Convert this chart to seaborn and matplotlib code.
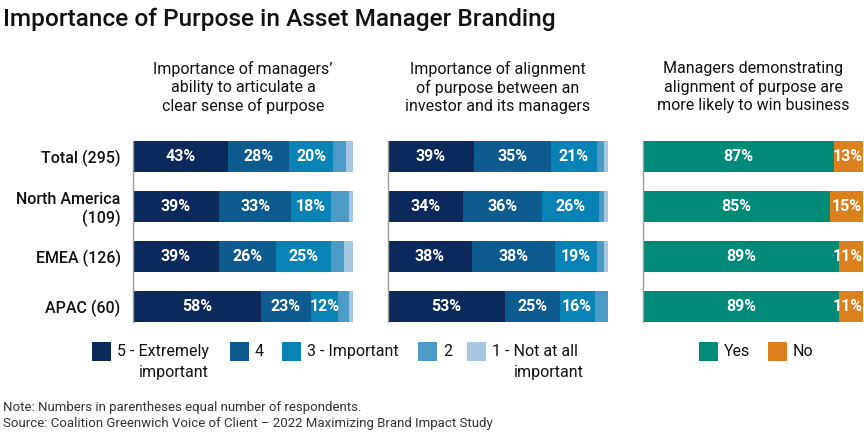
import numpy as np
import pandas as pd
import matplotlib
matplotlib.use("Agg")
import matplotlib.pyplot as plt
from matplotlib.patches import Rectangle
import seaborn as sns

# --- DATA ---
regions = ["Total (295)", "North America\n(109)", "EMEA (126)", "APAC (60)"]
scale_levels = ["5 - Extremely important", "4", "3 - Important", "2", "1 - Not at all important"]

# panel 1: ability to articulate a clear sense of purpose
articulate_5 = [43, 39, 39, 58]
articulate_4 = [28, 33, 26, 23]
articulate_3 = [20, 18, 25, 12]
articulate_2 = [6, 8, 6, 5]
articulate_1 = [3, 2, 4, 2]

# panel 2: alignment of purpose between investor and managers
alignment_5 = [39, 34, 38, 53]
alignment_4 = [35, 36, 38, 25]
alignment_3 = [21, 26, 19, 16]
alignment_2 = [3, 2, 3, 6]
alignment_1 = [2, 2, 2, 0]

# panel 3: more likely to win business
win_yes = [87, 85, 89, 89]
win_no = [13, 15, 11, 11]

panel_titles = [
    "Importance of managers\u2019\nability to articulate a\nclear sense of purpose",
    "Importance of alignment\nof purpose between an\ninvestor and its managers",
    "Managers demonstrating\nalignment of purpose are\nmore likely to win business",
]

# --- STYLE ---
BLUES = ["#0b2a5b", "#0e5b8f", "#0983b6", "#4c9ac6", "#a7c7e0"]
GREENS = ["#008a78", "#db801c"]
TXT = "#111111"
FONT = ["Roboto", "DejaVu Sans"]

sns.set_theme(style="white")
plt.rcParams["font.family"] = FONT

W, H = 864, 446
fig = plt.figure(figsize=(W / 100, H / 100), dpi=100)
renderer = fig.canvas.get_renderer()


def px_axes(x0, x1, y0, y1):
    return fig.add_axes([x0 / W, 1 - y1 / H, (x1 - x0) / W, (y1 - y0) / H])


def stacked(ax, series, colors):
    df = pd.DataFrame({"region": regions})
    n = len(series)
    # draw cumulative totals from the full bar down to the first segment
    for k in range(n, 0, -1):
        df["cum"] = np.sum(series[:k], axis=0)
        sns.barplot(data=df, x="cum", y="region", orient="h", color=colors[k - 1],
                    width=0.63, saturation=1, linewidth=0, ax=ax)
    left = np.zeros(len(regions))
    for vals in series:
        for i, v in enumerate(vals):
            if v >= 10:
                xc = min(left[i] + v / 2, 93.2)  # keep end labels inside the figure
                ax.text(xc, i, f"{v}%", ha="center", va="center",
                        color="white", fontsize=11.5, fontweight="bold")
        left += np.array(vals)
    ax.set_xlim(0, 100)
    ax.set_ylim(len(regions) - 1 + 0.315, -0.315)
    ax.set_xlabel("")
    ax.set_ylabel("")
    ax.set_xticks([])
    for s in ["top", "right", "bottom"]:
        ax.spines[s].set_visible(False)
    ax.spines["left"].set_color("#9a9a9a")
    ax.spines["left"].set_linewidth(1)


panels = [
    (133, 353, [articulate_5, articulate_4, articulate_3, articulate_2, articulate_1], BLUES),
    (388, 608, [alignment_5, alignment_4, alignment_3, alignment_2, alignment_1], BLUES),
    (643, 863, [win_yes, win_no], GREENS),
]

for idx, (x0, x1, series, cols) in enumerate(panels):
    ax = px_axes(x0, x1, 141, 322)
    stacked(ax, series, cols)
    if idx == 0:
        ax.tick_params(axis="y", length=0, pad=9, labelsize=11.5, labelcolor=TXT)
        for lab in ax.get_yticklabels():
            lab.set_horizontalalignment("right")
            lab.set_multialignment("right")
            lab.set_fontweight("medium")
    else:
        ax.set_yticklabels([])
        ax.tick_params(axis="y", length=0)
    fig.text((x0 + x1) / 2 / W, 1 - 61 / H, panel_titles[idx], ha="center", va="top",
             fontsize=11.5, color=TXT, linespacing=1.25)

# --- TITLE ---
fig.text(3 / W, 1 - 8 / H, "Importance of Purpose in Asset Manager Branding", ha="left", va="top",
         fontsize=17.6, fontweight="medium", color=TXT)

# --- LEGENDS (drawn by hand to keep the hanging indent) ---
legend_items = [
    (92, "5 - ", "Extremely", "important", BLUES[0]),
    (230, "", "4", "", BLUES[1]),
    (282, "", "3 - Important", "", BLUES[2]),
    (418, "", "2", "", BLUES[3]),
    (467, "1 - ", "Not at all", "important", BLUES[4]),
    (699, "", "Yes", "", GREENS[0]),
    (768, "", "No", "", GREENS[1]),
]
for x, prefix, first, second, c in legend_items:
    fig.patches.append(Rectangle((x / W, 1 - 361 / H), 19 / W, 19 / H, transform=fig.transFigure,
                                 facecolor=c, edgecolor="none"))
    t = fig.text((x + 25) / W, 1 - 351.5 / H, prefix + first, ha="left", va="center",
                 fontsize=11.5, color=TXT)
    if second:
        # hanging indent: second line starts under the word after the prefix
        w_full = t.get_window_extent(renderer).width
        probe = fig.text(0, 0, first, fontsize=11.5)
        w_first = probe.get_window_extent(renderer).width
        probe.remove()
        fig.text((x + 25 + w_full - w_first) / W, 1 - 372 / H, second, ha="left", va="center",
                 fontsize=11.5, color=TXT)

# --- NOTES ---
fig.text(3 / W, 1 - 401 / H, "Note: Numbers in parentheses equal number of respondents.\n"
         "Source: Coalition Greenwich Voice of Client \u2013 2022 Maximizing Brand Impact Study",
         ha="left", va="top", fontsize=9.5, color="#333333", linespacing=1.25)

fig.savefig("out.png", dpi=100)
